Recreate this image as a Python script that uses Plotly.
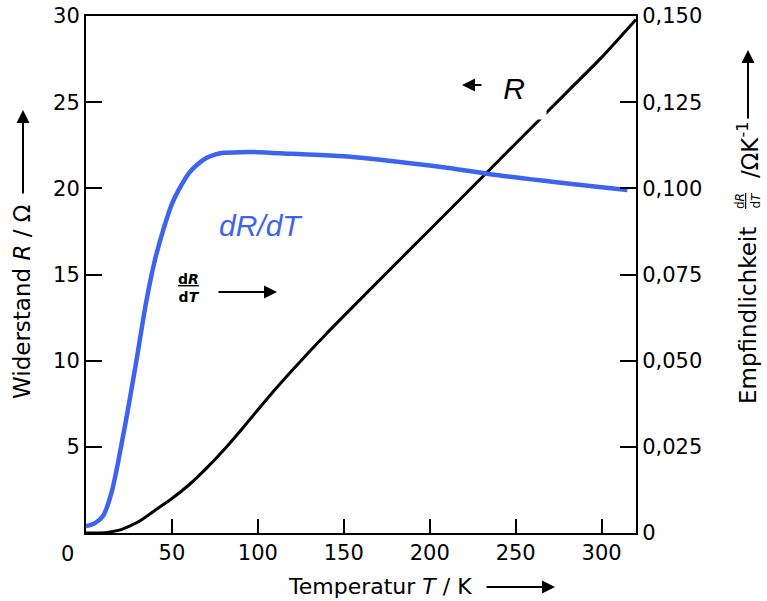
import plotly.graph_objects as go

# ---- data ----
# Resistance R (left axis, Ohm) vs temperature T (K)
T_R = [0, 8, 15, 20, 25, 30, 35, 40, 45, 50, 60, 70, 80, 90, 100, 110, 120, 140,
       160, 180, 200, 220, 240, 260, 280, 300, 320]
R_vals = [0.0, 0.0, 0.08, 0.18, 0.38, 0.62, 0.95, 1.3, 1.65, 2.0, 2.8, 3.75, 4.8, 5.95,
          7.15, 8.33, 9.45, 11.58, 13.6, 15.6, 17.6, 19.6, 21.6, 23.6, 25.6, 27.6, 29.8]

# Sensitivity dR/dT (right axis, Ohm/K) vs temperature T (K)
T_S = [0, 5, 10, 15, 20, 25, 30, 35, 40, 45, 50, 55, 60, 65, 70, 75, 80, 90, 100,
       120, 150, 180, 210, 240, 270, 300, 315]
S_vals = [0.002, 0.0028, 0.005, 0.012, 0.024, 0.0375, 0.052, 0.067, 0.079, 0.088,
          0.0955, 0.1005, 0.1045, 0.107, 0.1088, 0.1098, 0.1103, 0.1105, 0.1105,
          0.11, 0.1093, 0.1078, 0.106, 0.1038, 0.102, 0.1003, 0.0995]

x_tickvals = [50, 100, 150, 200, 250, 300]
x_ticktext = ["50", "100", "150", "200", "250", "300"]
yl_tickvals = [5, 10, 15, 20, 25, 30]
yl_ticktext = ["5", "10", "15", "20", "25", "30"]
yr_tickvals = [0, 0.025, 0.05, 0.075, 0.1, 0.125, 0.15]
yr_ticktext = ["0", "0,025", "0,050", "0,075", "0,100", "0,125", "0,150"]

BLUE = "#3c64f0"
FONT = "DejaVu Sans"

# target plot area in page pixels (body margin removed below)
L, R_, T_, B_ = 86, 636, 16, 533
W, H = 767, 601


def px(x):
    return (x - L) / (R_ - L)


def py(y):
    return (B_ - y) / (B_ - T_)


fig = go.Figure()
fig.add_trace(go.Scatter(x=T_R, y=R_vals, mode="lines",
                         line=dict(color="black", width=3, shape="spline", smoothing=0.6),
                         yaxis="y", showlegend=False, hoverinfo="skip"))
fig.add_trace(go.Scatter(x=T_S, y=S_vals, mode="lines",
                         line=dict(color=BLUE, width=4.5, shape="spline", smoothing=0.8),
                         yaxis="y2", showlegend=False, hoverinfo="skip"))

axis_common = dict(showline=True, linecolor="black", linewidth=2, ticks="inside",
                   tickcolor="black", tickwidth=2, showgrid=False, zeroline=False,
                   automargin=False, ticklabeloverflow="allow",
                   tickfont=dict(family=FONT, size=21, color="black"))

fig.update_layout(
    width=W, height=H,
    margin=dict(l=L, r=W - R_, t=T_, b=H - B_),
    paper_bgcolor="white", plot_bgcolor="white",
    xaxis=dict(range=[0, 320], tickvals=x_tickvals, ticktext=x_ticktext,
               ticklen=14, mirror=True, **axis_common),
    yaxis=dict(range=[0, 30], tickvals=yl_tickvals, ticktext=yl_ticktext,
               ticklen=16, **axis_common),
    yaxis2=dict(range=[0, 0.15], tickvals=yr_tickvals, ticktext=yr_ticktext,
                ticklen=16, overlaying="y", side="right", **axis_common),
)

anns = []
tf = dict(family=FONT, size=23, color="black")


def label(text, x, y, font, angle=0, **kw):
    d = dict(text=text, x=px(x), y=py(y), xref="paper", yref="paper", showarrow=False,
             xanchor="center", yanchor="middle", textangle=angle, font=font)
    d.update(kw)
    anns.append(d)


def arrow(hx, hy, ax, ay):
    anns.append(dict(text="", x=px(hx), y=py(hy), xref="paper", yref="paper", showarrow=True,
                     ax=ax, ay=ay, arrowhead=2, arrowsize=1.3, arrowwidth=2,
                     arrowcolor="black"))


# x axis "0" label
label("0", 67, 554, dict(family=FONT, size=21, color="black"))
# left title
label("Widerstand <i>R</i> / Ω", 22, 302, tf, angle=-90)
arrow(23, 110, 0, 85)
# x title
label("Temperatur <i>T</i> / K", 380, 587, dict(family=FONT, size=22, color="black"))
arrow(555, 587, -70, 0)
# right title
label("Empfindlichkeit", 748, 316, tf, angle=-90)
label("<u>d<i>R</i></u><br>d<i>T</i>", 748, 201, dict(family=FONT, size=12, color="black"),
      angle=-90)
label("/ΩK<sup>-1</sup>", 748, 150, tf, angle=-90)
arrow(748, 50, 0, 70)
# "R" label with white box
label("<i>R</i>", 514, 88, dict(family="Liberation Sans", size=30, color="black"),
      bgcolor="white", width=62, height=59)
arrow(462, 85, 21, 0)
# blue dR/dT label
label("<i>dR/dT</i>", 261, 226, dict(family="Liberation Sans", size=30, color=BLUE))
# small fraction label with arrow
label("<b><u>d<i>R</i></u></b><br><b>d<i>T</i></b>", 189, 288,
      dict(family=FONT, size=14, color="black"))
arrow(277, 292, -60, 0)

fig.update_layout(annotations=anns)
fig.write_html("out.html", config={"displayModeBar": False},
               post_script="document.body.style.margin='0';document.body.style.overflow='hidden';")
